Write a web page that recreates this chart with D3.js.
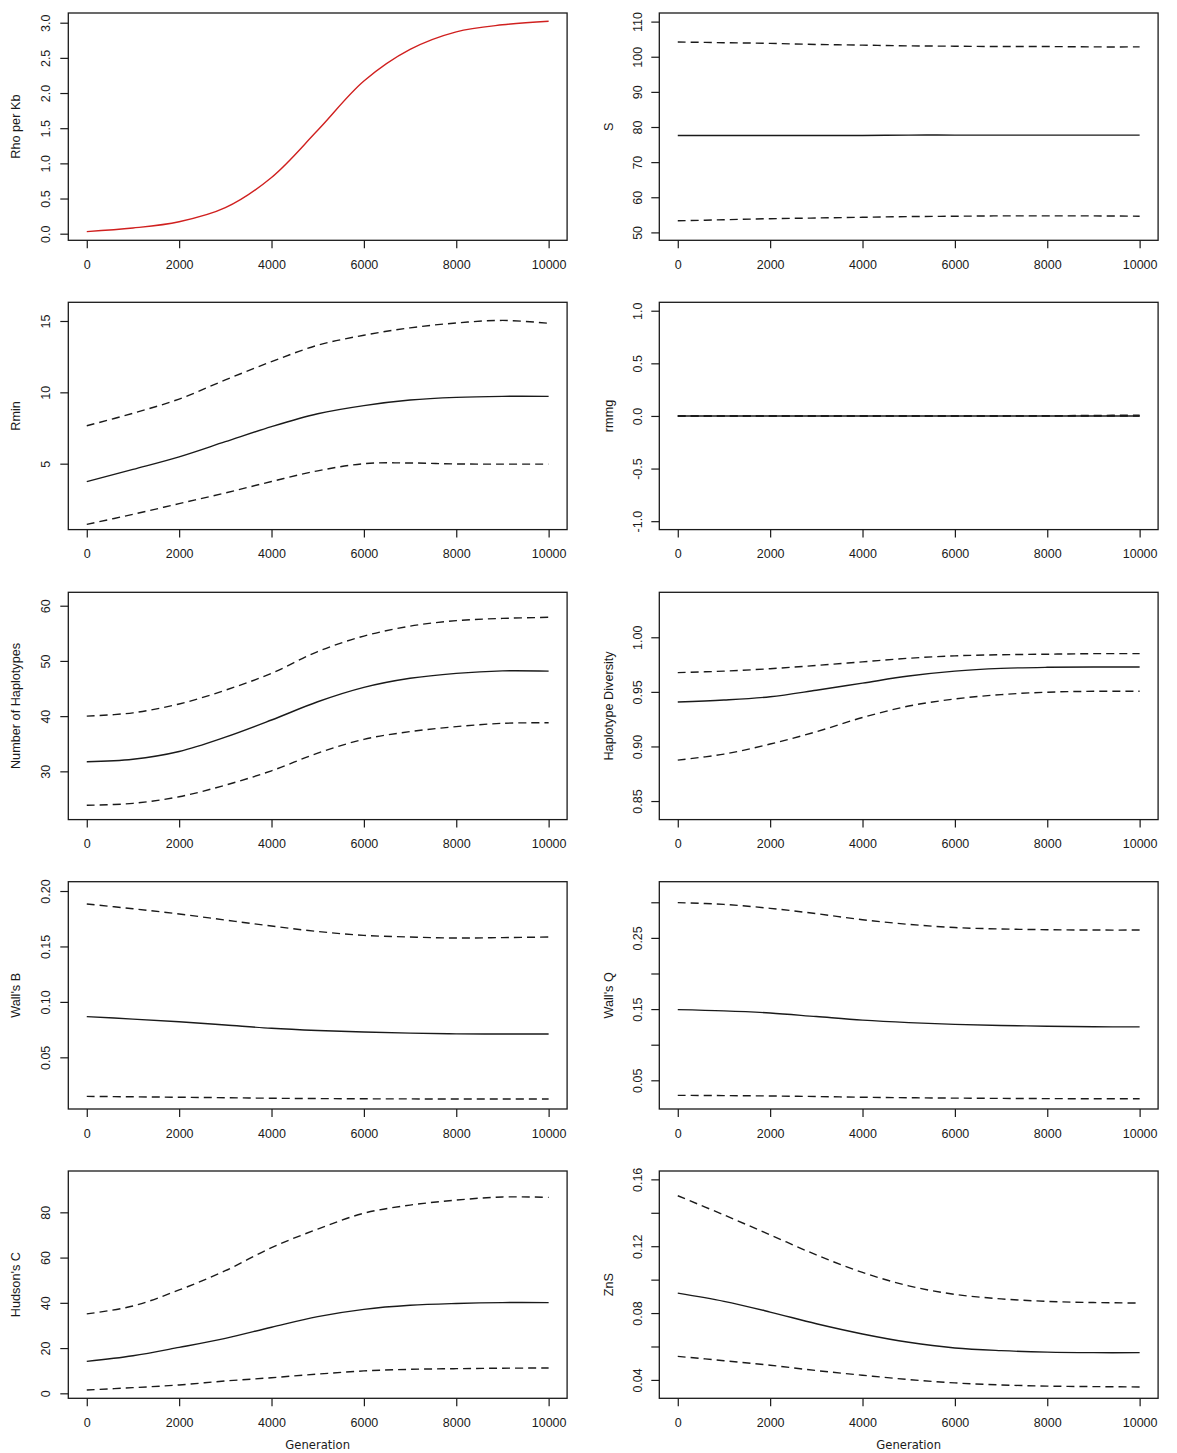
<!DOCTYPE html>
<html><head><meta charset="utf-8">
<script src="https://cdn.jsdelivr.net/npm/d3@7"></script>
<style>body{margin:0;background:#fff}</style>
</head><body>
<svg id="chart" width="1177" height="1453"></svg>
<script>
// ---------------- data ----------------
const generations = [0,1000,2000,3000,4000,5000,6000,7000,8000,9000,10000];
const xTicks = [0,2000,4000,6000,8000,10000];

const rhoPerKb = [0.03,0.08,0.17,0.37,0.80,1.47,2.17,2.62,2.87,2.97,3.02];

const sMean  = [77.6,77.6,77.6,77.6,77.6,77.7,77.7,77.7,77.7,77.7,77.7];
const sUpper = [104.2,104.0,103.8,103.5,103.3,103.1,103.0,102.9,102.9,102.8,102.8];
const sLower = [53.3,53.6,53.9,54.1,54.3,54.5,54.6,54.7,54.7,54.7,54.6];

const rminMean  = [3.74,4.6,5.48,6.54,7.6,8.5,9.07,9.46,9.65,9.72,9.72];
const rminUpper = [7.66,8.53,9.53,10.87,12.15,13.3,14.0,14.52,14.86,15.04,14.84];
const rminLower = [0.75,1.45,2.2,2.95,3.75,4.5,5.0,5.05,4.98,4.97,4.97];

const rmmgMean  = [0,0,0,0,0,0,0,0,0,0,0];
const rmmgUpper = [0,0,0,0,0,0,0,0,0.002,0.005,0.008];
const rmmgLower = [0,0,0,0,0,0,0,0,0,0,0];

const nHapMean  = [31.75,32.2,33.6,36.2,39.3,42.6,45.2,46.85,47.75,48.2,48.15];
const nHapUpper = [40.0,40.6,42.2,44.7,47.75,51.7,54.5,56.3,57.3,57.7,57.9];
const nHapLower = [23.85,24.2,25.4,27.5,30.1,33.3,35.8,37.2,38.1,38.7,38.8];

const hapDivMean  = [0.9407,0.9425,0.9455,0.9515,0.9580,0.9645,0.9690,0.9715,0.9725,0.9728,0.9728];
const hapDivUpper = [0.9676,0.9690,0.9712,0.9742,0.9775,0.9808,0.9830,0.9840,0.9845,0.9850,0.9850];
const hapDivLower = [0.8875,0.8930,0.9022,0.9135,0.9265,0.9370,0.9435,0.9475,0.9497,0.9505,0.9505];

const wallBMean  = [0.0867,0.0845,0.0821,0.0792,0.0762,0.0742,0.0728,0.0718,0.0712,0.0710,0.0710];
const wallBUpper = [0.1883,0.1840,0.1793,0.1738,0.1684,0.1635,0.1600,0.1585,0.1576,0.1580,0.1585];
const wallBLower = [0.0148,0.0144,0.0140,0.0136,0.0131,0.0128,0.0126,0.0125,0.0124,0.0124,0.0124];

const wallQMean  = [0.1492,0.1475,0.1445,0.1395,0.1345,0.1310,0.1285,0.1270,0.1260,0.1252,0.1250];
const wallQUpper = [0.2995,0.2970,0.2915,0.2840,0.2755,0.2690,0.2645,0.2625,0.2615,0.2610,0.2610];
const wallQLower = [0.0289,0.0285,0.0280,0.0272,0.0262,0.0255,0.0250,0.0246,0.0243,0.0241,0.0240];

const hudsonCMean  = [14.1,16.6,20.3,24.3,29.2,33.9,37.1,38.9,39.7,40.1,40.1];
const hudsonCUpper = [35.1,38.6,45.7,54.2,64.4,72.6,79.6,83.2,85.4,86.8,86.6];
const hudsonCLower = [1.47,2.5,3.7,5.45,6.9,8.5,9.9,10.6,10.9,11.1,11.2];

const znsMean  = [0.0919,0.0870,0.0806,0.0736,0.0675,0.0625,0.0591,0.0575,0.0566,0.0563,0.0563];
const znsUpper = [0.1502,0.1387,0.1268,0.1148,0.1043,0.0963,0.0912,0.0885,0.0870,0.0863,0.0860];
const znsLower = [0.0541,0.0515,0.0488,0.0456,0.0428,0.0402,0.0382,0.0370,0.0363,0.0360,0.0358];

// tick values & labels
const rhoTicks = [0,0.5,1,1.5,2,2.5,3];
const rhoLabels = ["0.0","0.5","1.0","1.5","2.0","2.5","3.0"];
const sTicks = [50,60,70,80,90,100,110];
const sLabels = ["50","60","70","80","90","100","110"];
const rminTicks = [5,10,15];
const rminLabels = ["5","10","15"];
const rmmgTicks = [-1,-0.5,0,0.5,1];
const rmmgLabels = ["-1.0","-0.5","0.0","0.5","1.0"];
const nHapTicks = [30,40,50,60];
const nHapLabels = ["30","40","50","60"];
const hapDivTicks = [0.85,0.90,0.95,1.00];
const hapDivLabels = ["0.85","0.90","0.95","1.00"];
const wallBTicks = [0.05,0.10,0.15,0.20];
const wallBLabels = ["0.05","0.10","0.15","0.20"];
const wallQTicks = [0.05,0.10,0.15,0.20,0.25,0.30];
const wallQLabels = ["0.05","","0.15","","0.25",""];
const hudsonCTicks = [0,20,40,60,80];
const hudsonCLabels = ["0","20","40","60","80"];
const znsTicks = [0.04,0.06,0.08,0.10,0.12,0.14,0.16];
const znsLabels = ["0.04","","0.08","","0.12","","0.16"];

// ---------------- layout ----------------
const colLeft = [68.3, 659.3];
const rowTop = [13, 302.3, 592.3, 881.7, 1171];
const W = 498.8, H = 227.3;

const panels = [
  {title:"Rho per Kb", row:0, col:0, yDom:[-0.094,3.138], ticks:rhoTicks, labels:rhoLabels, lines:[{v:rhoPerKb, kind:"red"}]},
  {title:"S", row:0, col:1, yDom:[47.75,112.45], ticks:sTicks, labels:sLabels, lines:[{v:sUpper,kind:"dash"},{v:sMean,kind:"solid"},{v:sLower,kind:"dash"}]},
  {title:"Rmin", row:1, col:0, yDom:[0.38,16.31], ticks:rminTicks, labels:rminLabels, lines:[{v:rminUpper,kind:"dash"},{v:rminMean,kind:"solid"},{v:rminLower,kind:"dash"}]},
  {title:"rmmg", row:1, col:1, yDom:[-1.08,1.08], ticks:rmmgTicks, labels:rmmgLabels, lines:[{v:rmmgUpper,kind:"dash"},{v:rmmgLower,kind:"dash"},{v:rmmgMean,kind:"solid"}]},
  {title:"Number of Haplotypes", row:2, col:0, yDom:[21.26,62.43], ticks:nHapTicks, labels:nHapLabels, lines:[{v:nHapUpper,kind:"dash"},{v:nHapMean,kind:"solid"},{v:nHapLower,kind:"dash"}]},
  {title:"Haplotype Diversity", row:2, col:1, yDom:[0.8330,1.0412], ticks:hapDivTicks, labels:hapDivLabels, lines:[{v:hapDivUpper,kind:"dash"},{v:hapDivMean,kind:"solid"},{v:hapDivLower,kind:"dash"}]},
  {title:"Wall's B", row:3, col:0, yDom:[0.0034,0.2084], ticks:wallBTicks, labels:wallBLabels, lines:[{v:wallBUpper,kind:"dash"},{v:wallBMean,kind:"solid"},{v:wallBLower,kind:"dash"}]},
  {title:"Wall's Q", row:3, col:1, yDom:[0.0097,0.3289], ticks:wallQTicks, labels:wallQLabels, lines:[{v:wallQUpper,kind:"dash"},{v:wallQMean,kind:"solid"},{v:wallQLower,kind:"dash"}]},
  {title:"Hudson's C", row:4, col:0, yDom:[-2.2,98.27], ticks:hudsonCTicks, labels:hudsonCLabels, lines:[{v:hudsonCUpper,kind:"dash"},{v:hudsonCMean,kind:"solid"},{v:hudsonCLower,kind:"dash"}]},
  {title:"ZnS", row:4, col:1, yDom:[0.029,0.165], ticks:znsTicks, labels:znsLabels, lines:[{v:znsUpper,kind:"dash"},{v:znsMean,kind:"solid"},{v:znsLower,kind:"dash"}]}
];

const svg = d3.select("#chart");
svg.append("rect").attr("width",1177).attr("height",1453).attr("fill","#fff");
const tickFont = "'Liberation Sans', Arial, sans-serif";
const ink = "#1a1a1a";

panels.forEach(p => {
  const g = svg.append("g").attr("transform", `translate(${colLeft[p.col]},${rowTop[p.row]})`);
  const x = d3.scaleLinear().domain([-400,10400]).range([0,W]);
  const y = d3.scaleLinear().domain(p.yDom).range([H,0]);

  // lines
  p.lines.forEach(l => {
    const line = d3.line().x((d,i)=>x(generations[i])).y(d=>y(d)).curve(d3.curveCatmullRom.alpha(0.5));
    g.append("path").attr("d", line(l.v)).attr("fill","none")
      .attr("stroke", l.kind==="red" ? "#d0201f" : ink)
      .attr("stroke-width", 1.4)
      .attr("stroke-dasharray", l.kind==="dash" ? "8,5" : null);
  });

  // box
  g.append("rect").attr("x",0).attr("y",0).attr("width",W).attr("height",H)
    .attr("fill","none").attr("stroke",ink).attr("stroke-width",1.3);

  // x axis
  const xa = g.append("g").attr("transform",`translate(0,${H})`)
    .call(d3.axisBottom(x).tickValues(xTicks).tickSize(8).tickSizeOuter(0).tickFormat(d3.format("d")));
  xa.select(".domain").remove();
  xa.selectAll(".tick line").attr("stroke",ink).attr("stroke-width",1.2);
  xa.selectAll(".tick text").attr("y",null).attr("dy",null).attr("transform","translate(0,28.5)")
    .attr("font-family",tickFont).attr("font-size","12.5px").attr("fill",ink);

  // y axis
  const ya = g.append("g")
    .call(d3.axisLeft(y).tickValues(p.ticks).tickSize(8).tickSizeOuter(0).tickFormat((d,i)=>p.labels[i]));
  ya.select(".domain").remove();
  ya.selectAll(".tick line").attr("stroke",ink).attr("stroke-width",1.2);
  const lblOff = p.col===0 ? -18.5 : -17;
  ya.selectAll(".tick text").attr("x",null).attr("dy",null).attr("text-anchor","middle")
    .attr("transform",`translate(${lblOff},0) rotate(-90)`)
    .attr("font-family",tickFont).attr("font-size","12.5px").attr("fill",ink);

  // y title
  const tOff = p.col===0 ? -48.3 : -46.8;
  g.append("text").attr("transform",`translate(${tOff},${H/2}) rotate(-90)`)
    .attr("text-anchor","middle").attr("font-family",tickFont).attr("font-size","12.7px")
    .attr("fill",ink).text(p.title);

  // x title on bottom row
  if (p.row === 4) {
    g.append("text").attr("x",W/2).attr("y",H+50.5).attr("text-anchor","middle")
      .attr("font-family","'DejaVu Sans', sans-serif").attr("font-size","11.6px")
      .attr("fill",ink).text("Generation");
  }
});
</script>
</body></html>
